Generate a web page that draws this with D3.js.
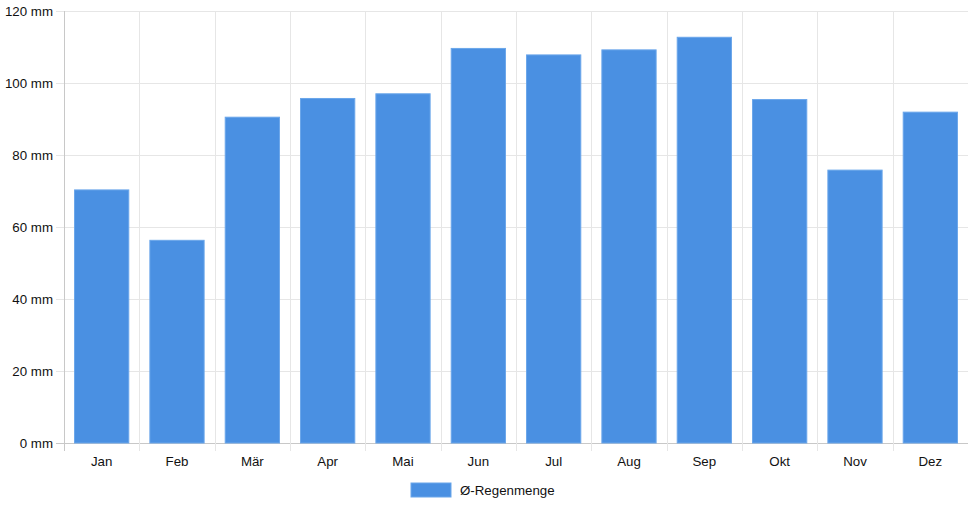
<!DOCTYPE html>
<html>
<head>
<meta charset="utf-8">
<script src="https://cdn.jsdelivr.net/npm/d3@7"></script>
<style>
  html, body { margin: 0; padding: 0; background: #fff; }
  svg { display: block; font-family: "Liberation Sans", Arial, sans-serif; }
</style>
</head>
<body>
<svg id="chart" width="968" height="508"></svg>
<script>
const months = ["Jan", "Feb", "Mär", "Apr", "Mai", "Jun", "Jul", "Aug", "Sep", "Okt", "Nov", "Dez"];
const rain = [70.3, 56.3, 90.5, 95.7, 97.0, 109.6, 107.8, 109.2, 112.7, 95.4, 75.8, 91.9];
const yTicks = [0, 20, 40, 60, 80, 100, 120];
const seriesName = "Ø-Regenmenge";

const width = 968;
const height = 508;
const margin = { top: 11, right: 0, bottom: 65, left: 64 };
const barColor = "#4a90e2";
const fontSize = 13.3;

const svg = d3.select("#chart");

const x = d3.scaleBand()
    .domain(months)
    .range([margin.left, width - margin.right])
    .paddingInner(0)
    .paddingOuter(0);

const y = d3.scaleLinear()
    .domain([0, 120])
    .range([height - margin.bottom, margin.top]);

// horizontal grid
svg.append("g")
    .selectAll("line")
    .data(yTicks)
    .join("line")
    .attr("x1", margin.left - 8)
    .attr("x2", width)
    .attr("y1", d => Math.round(y(d)) + 0.5)
    .attr("y2", d => Math.round(y(d)) + 0.5)
    .attr("stroke", d => d === 0 ? "#c8c8c8" : "#e6e6e6");

// vertical grid at category boundaries
const bounds = months.map(m => x(m));
svg.append("g")
    .selectAll("line")
    .data(bounds)
    .join("line")
    .attr("x1", d => Math.round(d) + 0.5)
    .attr("x2", d => Math.round(d) + 0.5)
    .attr("y1", margin.top)
    .attr("y2", y(0) + 8)
    .attr("stroke", (d, i) => i === 0 ? "#c8c8c8" : "#e6e6e6");

// bars
svg.append("g")
    .selectAll("rect")
    .data(rain)
    .join("rect")
    .attr("x", (d, i) => x(months[i]) + x.bandwidth() * 0.14)
    .attr("width", x.bandwidth() * 0.72)
    .attr("y", d => y(d))
    .attr("height", d => y(0) - y(d))
    .attr("fill", barColor)
    .attr("stroke", "#6aa6ea")
    .attr("stroke-width", 1);

// y labels
svg.append("g")
    .selectAll("text")
    .data(yTicks)
    .join("text")
    .attr("x", margin.left - 11)
    .attr("y", d => y(d))
    .attr("dy", "0.35em")
    .attr("text-anchor", "end")
    .attr("font-size", fontSize)
    .attr("fill", "#111")
    .text(d => d + " mm");

// x labels
svg.append("g")
    .selectAll("text")
    .data(months)
    .join("text")
    .attr("x", d => x(d) + x.bandwidth() / 2)
    .attr("y", y(0) + 23)
    .attr("text-anchor", "middle")
    .attr("font-size", fontSize)
    .attr("fill", "#111")
    .text(d => d);

// legend
const legend = svg.append("g").attr("transform", "translate(411,483)");
legend.append("rect")
    .attr("width", 40)
    .attr("height", 14)
    .attr("fill", barColor)
    .attr("stroke", "#6aa6ea");
legend.append("text")
    .attr("x", 49)
    .attr("y", 7)
    .attr("dy", "0.35em")
    .attr("font-size", fontSize)
    .attr("fill", "#111")
    .text(seriesName);
</script>
</body>
</html>
